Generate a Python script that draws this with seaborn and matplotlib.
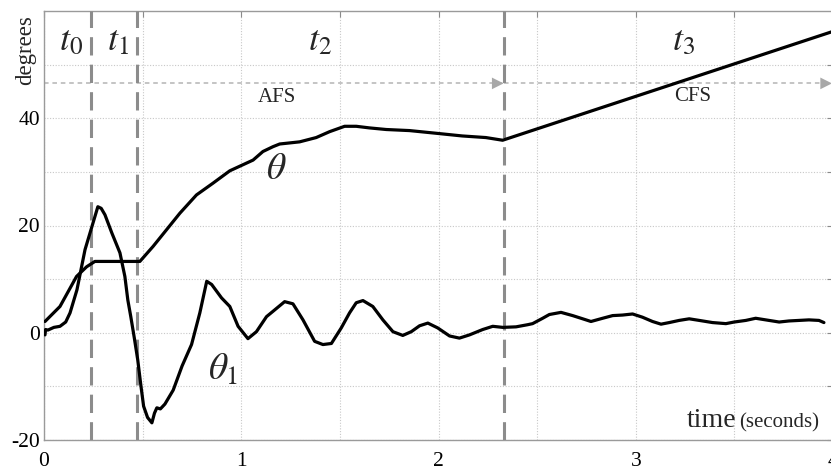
import matplotlib
matplotlib.use("Agg")
import matplotlib.pyplot as plt
import seaborn as sns
import pandas as pd

# Rudder angle theta (smooth) and its response theta_1 (noisy), degrees vs seconds
theta_t = [0.005, 0.081, 0.165, 0.216, 0.258, 0.486, 0.553, 0.621, 0.689, 0.773,
           0.857, 0.942, 1.06, 1.11, 1.161, 1.195, 1.246, 1.296, 1.38, 1.448,
           1.524, 1.583, 1.65, 1.735, 1.853, 1.988, 2.12, 2.24, 2.325, 4.0]
theta_v = [2.1, 4.9, 10.5, 12.3, 13.3, 13.3, 16.1, 19.2, 22.3, 25.7,
           27.9, 30.2, 32.2, 33.8, 34.7, 35.2, 35.4, 35.6, 36.4, 37.5,
           38.5, 38.5, 38.2, 37.9, 37.7, 37.2, 36.7, 36.4, 35.9, 56.2]

theta1_t = [0.005, 0.008, 0.02, 0.05, 0.081, 0.11, 0.132, 0.167, 0.208, 0.243,
            0.273, 0.29, 0.309, 0.344, 0.385, 0.41, 0.425, 0.44, 0.458, 0.475,
            0.49, 0.505, 0.525, 0.547, 0.56, 0.572, 0.59, 0.613, 0.655, 0.70,
            0.748, 0.79, 0.825, 0.85, 0.9, 0.942, 0.984, 1.034,
            1.077, 1.128, 1.161, 1.22, 1.262, 1.313, 1.372, 1.414, 1.457, 1.507,
            1.549, 1.583, 1.617, 1.667, 1.718, 1.769, 1.819, 1.862, 1.904, 1.946,
            1.996, 2.056, 2.106, 2.157, 2.224, 2.275, 2.326, 2.393, 2.452, 2.477,
            2.528, 2.562, 2.621, 2.68, 2.731, 2.773, 2.832, 2.883, 2.933, 2.984,
            3.034, 3.085, 3.128, 3.17, 3.22, 3.271, 3.322, 3.389, 3.457, 3.499,
            3.558, 3.608, 3.659, 3.727, 3.777, 3.828, 3.878, 3.929, 3.954]
theta1_v = [-0.4, 0.6, 0.5, 1.0, 1.2, 2.0, 3.7, 8.0, 15.5, 19.8,
            23.5, 23.2, 22.0, 18.6, 14.9, 10.5, 6.1, 3.0, -1.0, -5.0,
            -9.5, -13.7, -15.8, -16.8, -15.0, -14.0, -14.2, -13.3, -10.7, -6.2,
            -2.2, 3.7, 9.6, 9.0, 6.5, 4.9, 1.2, -1.1,
            0.2, 3.0, 4.0, 5.8, 5.4, 2.4, -1.6, -2.2, -2.0, 0.9,
            3.7, 5.6, 6.0, 4.9, 2.4, 0.2, -0.5, 0.2, 1.3, 1.8,
            0.9, -0.6, -1.0, -0.4, 0.6, 1.2, 1.0, 1.1, 1.5, 1.7,
            2.7, 3.4, 3.8, 3.2, 2.6, 2.1, 2.7, 3.2, 3.3, 3.5,
            2.9, 2.1, 1.6, 1.9, 2.3, 2.6, 2.3, 1.9, 1.7, 2.0,
            2.3, 2.7, 2.4, 2.0, 2.2, 2.3, 2.4, 2.3, 1.9]

# Phase boundaries (seconds) and the AFS/CFS marker level (degrees)
phase_bounds = [0.24, 0.47, 2.33]
mode_level = 46.5

x_ticks = [0, 0.5, 1, 1.5, 2, 2.5, 3, 3.5, 4]
x_tick_labels = ["0", "", "1", "", "2", "", "3", "", "4"]
y_ticks = [-20, -10, 0, 10, 20, 30, 40, 50]
y_tick_labels = ["-20", "", "0", "", "20", "", "40", ""]

sns.set_theme(style="white")
plt.rcParams["font.family"] = ["Liberation Serif", "DejaVu Serif"]
plt.rcParams["mathtext.fontset"] = "stix"

fig = plt.figure(figsize=(8.31, 4.66), dpi=100)
ax = fig.add_axes([44 / 831, 26 / 466, 789 / 831, 429 / 466])

df_theta = pd.DataFrame({"t": theta_t, "deg": theta_v})
df_theta1 = pd.DataFrame({"t": theta1_t, "deg": theta1_v})
sns.lineplot(data=df_theta, x="t", y="deg", ax=ax, color="black", lw=2.3,
             estimator=None, sort=False, zorder=5)
sns.lineplot(data=df_theta1, x="t", y="deg", ax=ax, color="black", lw=2.3,
             estimator=None, sort=False, zorder=5)

ax.set_xlim(0, 4)
ax.set_ylim(-20, 60)
ax.set_xticks(x_ticks)
ax.set_xticklabels(x_tick_labels)
ax.set_yticks(y_ticks)
ax.set_yticklabels(y_tick_labels)
ax.set_xlabel("")
ax.set_ylabel("")
ax.grid(True, color="#c8c8c8", linestyle=(0, (1, 1.5)), linewidth=0.8)
ax.tick_params(direction="in", length=4, width=0.8, color="#8a8a8a",
               top=True, right=True, labelsize=15.5, labelcolor="black")
ax.tick_params(axis="x", pad=9)
ax.tick_params(axis="y", pad=3)
for sp in ax.spines.values():
    sp.set_color("#9a9a9a")
    sp.set_linewidth(1.0)

# Phase separators
for xb in phase_bounds:
    ax.axvline(xb, color="#8c8c8c", lw=2.2, linestyle=(0, (6, 3)), zorder=3)

# AFS / CFS mode arrows
ax.hlines(mode_level, 0, phase_bounds[2], color="#b4b4b4", lw=1.1,
          linestyle=(0, (3, 2.5)), zorder=2)
ax.hlines(mode_level, phase_bounds[2], 4, color="#b4b4b4", lw=1.1,
          linestyle=(0, (3, 2.5)), zorder=2)
for xe in (phase_bounds[2], 3.995):
    ax.annotate("", xy=(xe, mode_level), xytext=(xe - 0.06, mode_level),
                arrowprops=dict(arrowstyle="-|>,head_length=0.7,head_width=0.35",
                                color="#a8a8a8", lw=0, shrinkA=0, shrinkB=0,
                                mutation_scale=12), zorder=4)

ax.text(3.29, 44.1, "CFS", fontsize=15, ha="center", va="center")
ax.text(1.18, 43.9, "AFS", fontsize=15, ha="center", va="center")

# Phase names
ax.text(0.135, 54.3, r"$t_\mathit{0}$", fontsize=26, ha="center", va="center")
ax.text(0.375, 54.3, r"$t_\mathit{1}$", fontsize=26, ha="center", va="center")
ax.text(1.40, 54.3, r"$t_2$", fontsize=26, ha="center", va="center")
ax.text(3.24, 54.3, r"$t_3$", fontsize=26, ha="center", va="center")

# Curve names
ax.text(1.18, 30.4, r"$\theta$", fontsize=27, ha="center", va="center")
ax.text(0.91, -7.0, r"$\theta_1$", fontsize=27, ha="center", va="center")

# Axis titles
ax.text(3.51, -17.6, "time", fontsize=20, ha="right", va="baseline")
ax.text(3.525, -17.6, "(seconds)", fontsize=15, ha="left", va="baseline")
fig.text(26 / 831, 1 - 50 / 466, "degrees", rotation=90, fontsize=16.5,
         ha="center", va="center")

fig.savefig("out.png", dpi=100)
